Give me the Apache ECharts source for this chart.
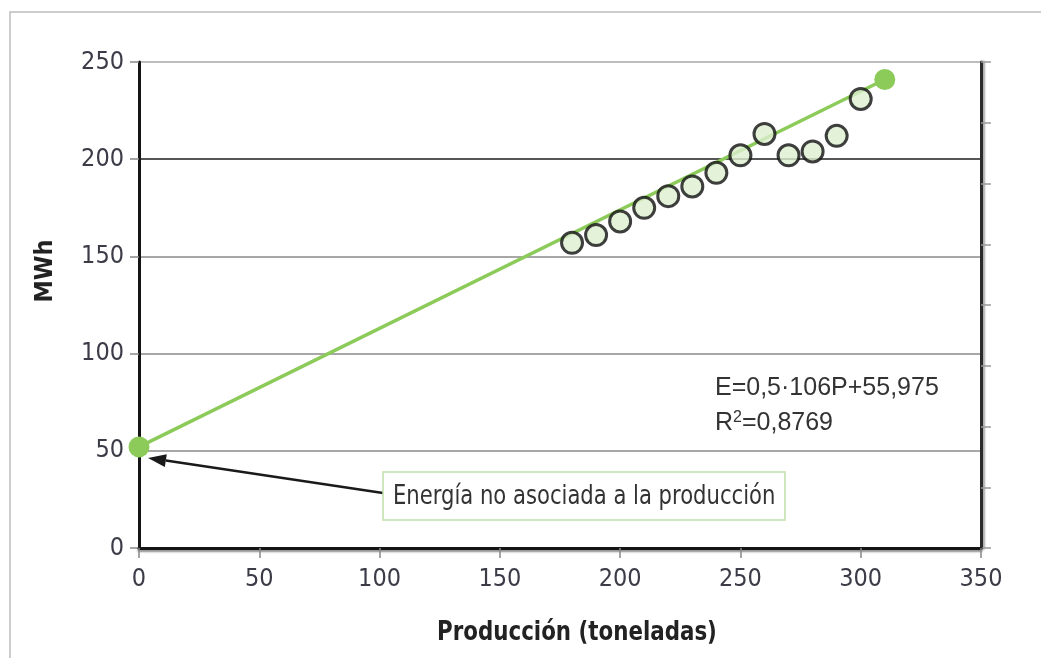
<!DOCTYPE html>
<html>
<head>
<meta charset="utf-8">
<script src="https://cdn.jsdelivr.net/npm/echarts@6/dist/echarts.min.js"></script>
<style>
  html, body { margin: 0; padding: 0; background: #fff; }
  #chart { width: 1041px; height: 658px; }
</style>
</head>
<body>
<div id="chart"></div>
<script>
// Monthly production (t) and energy consumption (MWh)
const production = [180, 190, 200, 210, 220, 230, 240, 250, 260, 270, 280, 290, 300];
const energy     = [157, 161, 168, 175, 181, 186, 193, 202, 213, 202, 204, 212, 231];

// Regression line end points (production, energy)
const trendX = [0, 310];
const trendY = [52, 241];

// Anchor of the "base load" annotation (intercept)
const baseLoadPoint = [0, 52];

const xTitle = 'Producción (toneladas)';
const yTitle = 'MWh';
const equationText = 'E=0,5·106P+55,975';
const r2Text = '0,8769';
const annotationText = 'Energía no asociada a la producción';

const narrow = '"Liberation Sans Narrow", "Arial Narrow", "DejaVu Sans Condensed", sans-serif';
const regular = '"Liberation Sans", Arial, sans-serif';
const green = '#8ccb5a';

const chart = echarts.init(document.getElementById('chart'));

const scatterData = production.map((p, i) => [p, energy[i]]);
const trendData = trendX.map((x, i) => [x, trendY[i]]);

chart.setOption({
  animation: false,
  backgroundColor: '#fff',
  grid: { left: 139, right: 60, top: 62, bottom: 110, containLabel: false },
  xAxis: {
    type: 'value', min: 0, max: 350, interval: 50,
    axisLine: { show: true, onZero: false, lineStyle: { color: '#151515', width: 3,
      shadowColor: 'rgba(0,0,0,0.45)', shadowBlur: 2, shadowOffsetY: 2 } },
    axisTick: { show: true, length: 10, lineStyle: { color: '#888', width: 1.5 } },
    axisLabel: { margin: 19, fontFamily: narrow, fontSize: 25, color: '#3c3c48' },
    splitLine: { show: false },
    z: 5
  },
  yAxis: [
    {
      type: 'value', min: 0, max: 250, interval: 50, position: 'left',
      axisLine: { show: true, lineStyle: { color: '#151515', width: 3 } },
      axisTick: { show: true, length: 9, lineStyle: { color: '#888', width: 1.5 } },
      axisLabel: { margin: 15, fontFamily: narrow, fontSize: 25, color: '#3c3c48' },
      splitLine: { show: true, lineStyle: { color: ['#151515', '#8a8a8a', '#8a8a8a', '#8a8a8a', '#1e1e1e', '#a8a8a8'], width: 1.5 } }
    },
    {
      type: 'value', min: 0, max: 8, interval: 1, position: 'right',
      axisLine: { show: true, lineStyle: { color: '#2a2a2a', width: 3,
        shadowColor: 'rgba(0,0,0,0.35)', shadowBlur: 2, shadowOffsetX: 2 } },
      axisTick: { show: true, length: 10, lineStyle: { color: '#999', width: 1.5 } },
      axisLabel: { show: false },
      splitLine: { show: false }
    }
  ],
  series: [
    {
      type: 'line', data: trendData, yAxisIndex: 0,
      symbol: 'circle', symbolSize: 21, showSymbol: true,
      lineStyle: { color: green, width: 3.5 },
      itemStyle: { color: green, borderWidth: 0 },
      z: 2
    },
    {
      type: 'scatter', data: scatterData, yAxisIndex: 0,
      symbol: 'circle', symbolSize: 21,
      itemStyle: { color: '#dcefcf', borderColor: '#0f0f0f', borderWidth: 3 },
      z: 3
    }
  ]
});

function drawAnnotations() {
  const tip = chart.convertToPixel({ xAxisIndex: 0, yAxisIndex: 0 }, baseLoadPoint);
  const tx = tip[0] + 9, ty = tip[1] + 11;
  const box = { x: 383, y: 472, w: 402, h: 48 };
  const sx = box.x, sy = box.y + 21;
  const ang = Math.atan2(ty - sy, tx - sx);
  const headLen = 18, headHalf = 6.5;
  const bx = tx - headLen * Math.cos(ang), by = ty - headLen * Math.sin(ang);
  const nx = -Math.sin(ang) * headHalf, ny = Math.cos(ang) * headHalf;

  chart.setOption({
    graphic: [
      { type: 'rect', silent: true, z: -10,
        shape: { x: 10, y: 12, width: 1100, height: 700 },
        style: { fill: 'none', stroke: '#bdbdbd', lineWidth: 1.5 } },
      { type: 'text', silent: true, x: 45, y: 271, rotation: Math.PI / 2,
        style: { text: yTitle, fontFamily: narrow, fontWeight: 'bold', fontSize: 25, fill: '#222',
          align: 'center', verticalAlign: 'middle' } },
      { type: 'text', silent: true, x: 577, y: 633, scaleX: 0.88,
        style: { text: xTitle, fontFamily: narrow, fontWeight: 'bold', fontSize: 27, fill: '#222',
          align: 'center', verticalAlign: 'middle' } },
      { type: 'text', silent: true, x: 715, y: 388, z: 10,
        style: { text: equationText, fontFamily: regular, fontSize: 25, fill: '#333',
          verticalAlign: 'middle' } },
      { type: 'text', silent: true, x: 715, y: 423, z: 10,
        style: { text: 'R{sup|2}=' + r2Text, fontFamily: regular, fontSize: 25, fill: '#333',
          verticalAlign: 'middle',
          rich: { sup: { fontFamily: regular, fontSize: 16, fill: '#333', verticalAlign: 'top', padding: [0, 0, 10, 0] } } } },
      { type: 'line', silent: true, z: 10,
        shape: { x1: sx, y1: sy, x2: bx, y2: by },
        style: { stroke: '#1a1a1a', lineWidth: 2.5 } },
      { type: 'polygon', silent: true, z: 10,
        shape: { points: [[tx, ty], [bx + nx, by + ny], [bx - nx, by - ny]] },
        style: { fill: '#1a1a1a' } },
      { type: 'rect', silent: true, z: 10,
        shape: { x: box.x, y: box.y, width: box.w, height: box.h },
        style: { fill: '#fff', stroke: '#bfe0a6', lineWidth: 1.5 } },
      { type: 'text', silent: true, z: 11, x: box.x + 10, y: box.y + box.h / 2 + 1, scaleX: 0.87,
        style: { text: annotationText, fontFamily: narrow, fontSize: 27, fill: '#333',
          verticalAlign: 'middle' } }
    ]
  });
}
drawAnnotations();
</script>
</body>
</html>
